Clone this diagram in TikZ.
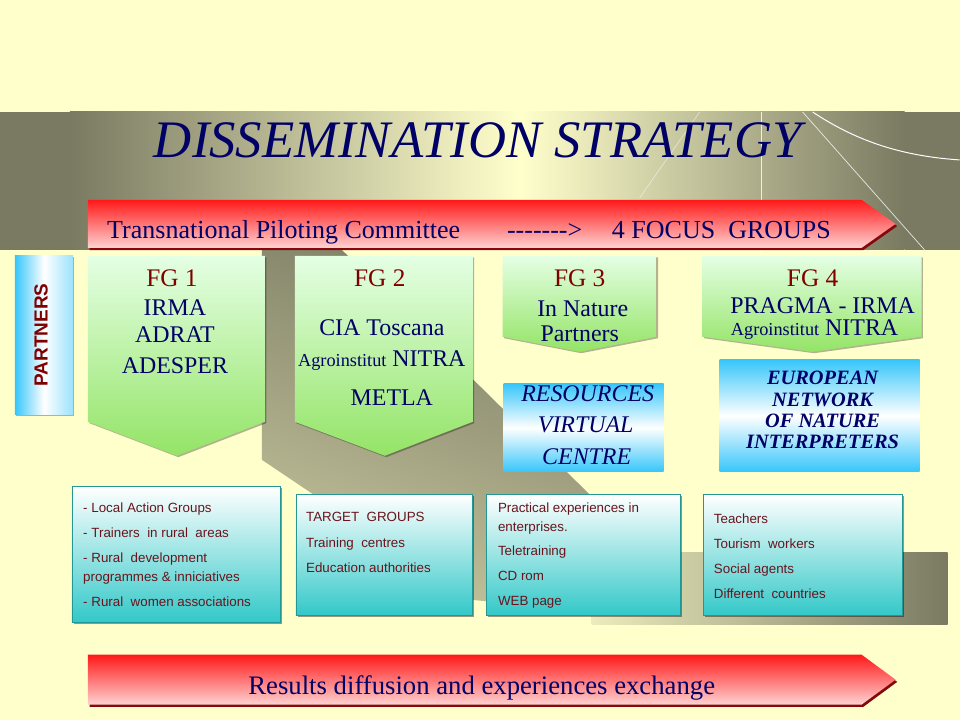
\documentclass[tikz,border=0pt]{standalone}
\usepackage{fontspec}
\setmainfont{Liberation Serif}[
    BoldFont={Liberation Serif Bold},
    ItalicFont={Liberation Serif Italic},
    BoldItalicFont={Liberation Serif Bold Italic}]
\setsansfont{Liberation Sans}
\usetikzlibrary{shadows,calc}

\definecolor{paper}{RGB}{255,255,204}
\definecolor{olive}{RGB}{122,122,98}
\definecolor{navy}{RGB}{0,0,102}
\definecolor{fgred}{RGB}{128,0,0}
\definecolor{redtop}{RGB}{255,25,25}
\definecolor{redbot}{RGB}{255,210,210}
\definecolor{shadered}{RGB}{130,10,10}
\definecolor{greentop}{RGB}{228,255,228}
\definecolor{greenbot}{RGB}{148,228,102}
\definecolor{skyblue}{RGB}{55,198,250}
\definecolor{boxteal}{RGB}{50,200,200}
\definecolor{listred}{RGB}{105,20,28}

\tikzset{
    banner/.style = {top color=redtop,
                    bottom color=redbot,
                    drop shadow={fill=shadered,
                                opacity=1,
                                shadow xshift=1.2pt,
                                shadow yshift=-1.6pt}},
    fgbox/.style =  {top color=greentop,
                    bottom color=greenbot,
                    drop shadow={fill=black,
                                opacity=0.3,
                                shadow xshift=1pt,
                                shadow yshift=-1pt}},
    skybox/.style = {top color=skyblue,
                    bottom color=skyblue,
                    middle color=white},
    partnerbox/.style = {left color=skyblue,
                    right color=skyblue!50!white,
                    middle color=white,
                    drop shadow={fill=black,
                                opacity=0.3,
                                shadow xshift=1pt,
                                shadow yshift=-1pt}},
    listbox/.style = {top color=white,
                    bottom color=boxteal,
                    draw=boxteal!75!black,
                    line width=0.4pt,
                    drop shadow={fill=black,
                                opacity=0.4,
                                shadow xshift=1.2pt,
                                shadow yshift=-1.2pt}},
    title/.style =  {font=\fontsize{37.5}{40}\selectfont\itshape,
                    text=navy,
                    anchor=base,
                    inner sep=0pt},
    bannertext/.style = {font=\fontsize{18.5}{20}\selectfont,
                    text=navy,
                    anchor=base west,
                    inner sep=0pt},
    fglabel/.style = {font=\fontsize{18}{20}\selectfont,
                    text=fgred,
                    anchor=base,
                    inner sep=0pt},
    member/.style = {font=\fontsize{17}{19}\selectfont,
                    text=navy,
                    anchor=base,
                    inner sep=0pt},
    centretext/.style = {font=\fontsize{17}{19}\selectfont\itshape,
                    text=navy,
                    anchor=base,
                    inner sep=0pt},
    networktext/.style = {font=\fontsize{14.5}{15}\selectfont\bfseries\itshape,
                    text=navy,
                    anchor=base,
                    inner sep=0pt},
    listtext/.style = {font=\sffamily\fontsize{9.5}{13.5}\selectfont,
                    text=listred,
                    align=left,
                    anchor=north west,
                    inner sep=0pt}}

\begin{document}
\begin{tikzpicture}[x=0.025cm,y=-0.025cm]
    % background
    \fill[paper] (0,0) rectangle (960,720);
    \shade[top color=olive, bottom color=paper!55!olive, shading angle=-20]
        (262,250) -- (342,250) -- (652,556) -- (600,612) -- (470,600) -- (262,460) -- cycle;
    \shade[left color=paper!85!olive, right color=olive] (592,553) rectangle (948,625);
    \fill[olive] (0,112) rectangle (70,250);
    \shade[left color=olive, right color=paper] (70,112) rectangle (520,250);
    \shade[left color=paper, right color=olive] (520,112) rectangle (905,250);
    \fill[olive] (905,112) rectangle (960,250);
    \draw[white, opacity=0.8, line width=0.5pt] (762,112) -- (762,255);
    \draw[white, opacity=0.8, line width=0.5pt] (803,112) -- (925,250);
    \draw[white, opacity=0.5, line width=0.5pt] (700,112) -- (640,198);
    \draw[white, line width=0.7pt] (813,112) .. controls (855,140) and (900,156) .. (960,160);

    \node[title] (title) at (478,157.5) {DISSEMINATION STRATEGY};

    % committee banner
    \path[banner] (88,200) -- (862,200) -- (896,224) -- (862,248) -- (88,248) -- cycle;
    \node[bannertext] (committee) at (107,239) {Transnational Piloting Committee};
    \node[bannertext] (dashes) at (507,239) {-{}-{}-{}-{}-{}-{}->};
    \node[bannertext] (focus) at (612,239) {4 FOCUS\ \ GROUPS};

    % partners
    \path[partnerbox] (15,256) rectangle (73,415);
    \node[rotate=90, font=\sffamily\bfseries\fontsize{13.5}{15}\selectfont, text=fgred, inner sep=0pt]
        (partners) at (41,335) {PARTNERS};

    % focus groups
    \path[fgbox] (88,256) -- (265,256) -- (265,422) -- (177,456) -- (88,422) -- cycle;
    \path[fgbox] (295,256) -- (473,256) -- (473,422) -- (385,456) -- (295,422) -- cycle;
    \path[fgbox] (503,256) -- (657,256) -- (657,337) -- (580,352) -- (503,337) -- cycle;
    \path[fgbox] (703,256) -- (922,256) -- (922,337) -- (813,352) -- (703,337) -- cycle;

    \node[fglabel] (fgone) at (172,287) {FG 1};
    \node[member] (irma) at (175,316) {IRMA};
    \node[member] (adrat) at (175,343) {ADRAT};
    \node[member] (adesper) at (175,374) {ADESPER};

    \node[fglabel] (fgtwo) at (380,287) {FG 2};
    \node[member] (cia) at (382,336) {CIA Toscana};
    \node[member] (nitra) at (382,367) {{\fontsize{13}{15}\selectfont Agroinstitut} NITRA};
    \node[member] (metla) at (392,406) {METLA};

    \node[fglabel] (fgthree) at (580,287) {FG 3};
    \node[member] (innature) at (583,317) {In Nature};
    \node[member] (nature) at (580,342) {Partners};

    \node[fglabel] (fgfour) at (813,287) {FG 4};
    \node[member] (pragma) at (823,314) {PRAGMA - IRMA};
    \node[member] (nitrab) at (815,336) {{\fontsize{13}{15}\selectfont Agroinstitut} NITRA};

    % resource boxes
    \path[skybox] (504,384) rectangle (664,472);
    \node[centretext] (resources) at (588,402) {RESOURCES};
    \node[centretext] (virtual) at (586,433) {VIRTUAL};
    \node[centretext] (centre) at (587,465) {CENTRE};

    \path[skybox] (720,360) rectangle (920,472);
    \node[networktext] (european) at (823,385) {EUROPEAN};
    \node[networktext] (network) at (823,407) {NETWORK};
    \node[networktext] (ofnature) at (823,428) {OF NATURE};
    \node[networktext] (interpreters) at (823,449) {INTERPRETERS};

    % target lists
    \path[listbox] (72,487) rectangle (280,623);
    \path[listbox] (296,495) rectangle (473,616);
    \path[listbox] (487,495) rectangle (681,616);
    \path[listbox] (704,495) rectangle (903,616);

    \node[listtext] (localgroups) at (83,502.4) {- Local Action Groups\\[4.5pt]
        - Trainers\ \ in rural\ \ areas\\[4.5pt]
        - Rural\ \ development\\programmes \& inniciatives\\[4.5pt]
        - Rural\ \ women associations};
    \node[listtext] (targetgroups) at (306,512.4) {TARGET\ \ GROUPS\\[4.5pt]
        Training\ \ centres\\[4.5pt]
        Education authorities};
    \node[listtext] (practical) at (498,502.4) {Practical experiences in\\[0.3pt]
        enterprises.\\[3.5pt]
        Teletraining\\[4.5pt]
        CD rom\\[4.5pt]
        WEB page};
    \node[listtext] (teachers) at (714,513.4) {Teachers\\[4.5pt]
        Tourism\ \ workers\\[4.5pt]
        Social agents\\[4.5pt]
        Different\ \ countries};

    % results banner
    \path[banner] (88,655) -- (862,655) -- (896,680) -- (862,705) -- (88,705) -- cycle;
    \node[bannertext, anchor=base, font=\fontsize{19}{21}\selectfont] (results) at (482,695)
        {Results diffusion and experiences exchange};
\end{tikzpicture}
\end{document}
